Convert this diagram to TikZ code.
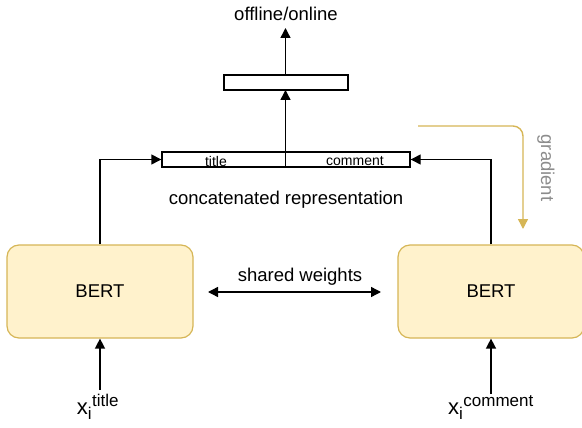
\documentclass[tikz,border=0pt]{standalone}
\usepackage{fontspec}
\setmainfont{Liberation Sans}
\usetikzlibrary{arrows.meta}
\definecolor{bertfill}{HTML}{FFF2CC}
\definecolor{bertline}{HTML}{D6B656}
\definecolor{gradline}{HTML}{D6B656}
\definecolor{gradtext}{HTML}{8C8C8C}
\begin{document}
\begin{tikzpicture}[x=1pt,y=-1pt,
  bertbox/.style={draw=bertline,fill=bertfill,rounded corners=12pt,line width=1.2pt,
    minimum width=186pt,minimum height=93pt,font=\fontsize{18.5}{22}\selectfont},
  barbox/.style={draw,line width=1.4pt,inner sep=0pt},
  flow/.style={line width=1.4pt,-{Triangle[length=10pt,width=10pt]}},
  lbl/.style={font=\fontsize{18.5}{22}\selectfont,inner sep=0pt},
  small/.style={font=\fontsize{14}{16}\selectfont,inner sep=0pt}]
\useasboundingbox (0,0) rectangle (582,428);

% encoders
\node[bertbox] (bl) at (100,291.5) {BERT};
\node[bertbox] (br) at (491,291.5) {BERT};

% concatenated representation bar
\node[barbox,minimum width=248pt,minimum height=15pt] (cat) at (286,159.5) {};
\draw[line width=1pt] (285.5,152) -- (285.5,167);
\node[small] (tt) at (216,161.5) {title};
\node[small] (tc) at (355,161.5) {comment};

% upper layer
\node[barbox,minimum width=124pt,minimum height=15pt] (up) at (286,82.5) {};
\node[lbl] (out) at (286,14) {offline/online};
\coordinate (outtip) at (285.5,28);
\coordinate (catin) at (285.5,152);
\coordinate (upin) at (285.5,90);
\coordinate (upout) at (285.5,75);

\draw[flow] (catin) -- (upin);
\draw[flow] (upout) -- (outtip);

% encoders to bar
\draw[flow] (bl.north) |- (cat.west);
\draw[flow] (br.north) |- (cat.east);

\node[lbl] (cr) at (286,200) {concatenated representation};

% shared weights
\node[lbl] (sw) at (300,277) {shared weights};
\coordinate (swl) at (208,292);
\coordinate (swr) at (381,292);
\draw[line width=1.4pt,{Triangle[length=10pt,width=10pt]}-{Triangle[length=10pt,width=10pt]}] (swl) -- (swr);

% inputs
\node[inner sep=0pt,anchor=base] (xt) at (98,414) {\fontsize{22}{26}\selectfont x\textsubscript{\fontsize{17}{20}\selectfont i}\textsuperscript{\fontsize{17}{20}\selectfont title}};
\node[inner sep=0pt,anchor=base] (xc) at (491,414) {\fontsize{22}{26}\selectfont x\textsubscript{\fontsize{17}{20}\selectfont i}\textsuperscript{\fontsize{17}{20}\selectfont comment}};
\coordinate (xtb) at (100,390);
\coordinate (xcb) at (491,394);
\draw[flow] (xtb) -- (bl.south);
\draw[flow] (xcb) -- (br.south);

% gradient feedback
\coordinate (g0) at (418,126);
\coordinate (g1) at (523,126);
\coordinate (g2) at (523,229);
\draw[gradline,line width=1.4pt,rounded corners=10pt,-{Triangle[length=10pt,width=10pt]}] (g0) -- (g1) -- (g2);
\node[lbl,text=gradtext,rotate=-90] (gt) at (546,168) {gradient};
\end{tikzpicture}
\end{document}
